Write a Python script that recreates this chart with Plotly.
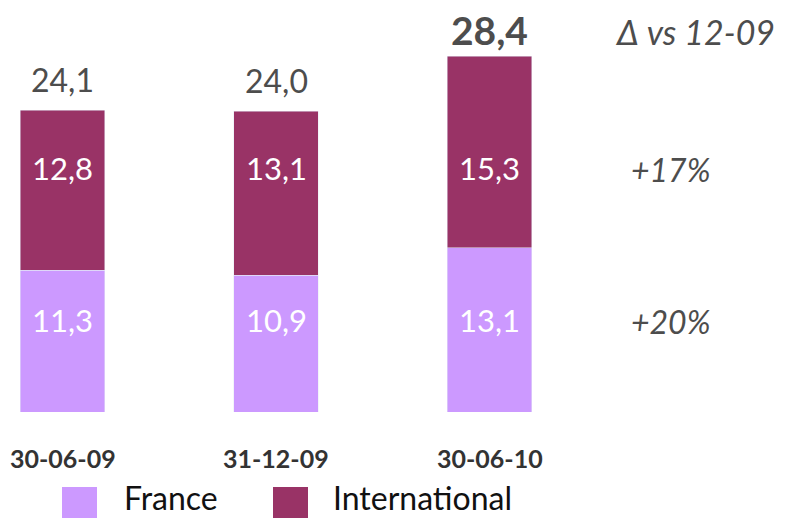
import plotly.graph_objects as go

# Encours (Md€) par date d'arrêté
dates = ["30-06-09", "31-12-09", "30-06-10"]
france = [11.3, 10.9, 13.1]
international = [12.8, 13.1, 15.3]
totals = [24.1, 24.0, 28.4]
delta_title = "Δ vs 12-09"
delta_international = "+17%"
delta_france = "+20%"

COL_FR = "#CC99FF"
COL_INT = "#993366"
GREY = "#4D4D4D"
FONT = "Lato"

W, H = 786, 518
PX_PER_UNIT = 12.53
PLOT_H = 412
x_pos = list(range(len(dates)))


def fmt(v):
    return f"{v:.1f}".replace(".", ",")


def py(pixel_y):
    """Paper y for a pixel row measured from the top of the page."""
    return (PLOT_H - pixel_y) / PLOT_H


def px(pixel_x):
    return pixel_x / W


fig = go.Figure()
fig.add_trace(go.Bar(x=x_pos, y=france, name="France", marker_color=COL_FR,
                     width=0.398, hoverinfo="skip"))
fig.add_trace(go.Bar(x=x_pos, y=international, name="International",
                     marker_color=COL_INT, width=0.398, hoverinfo="skip"))

ann = []
for i, x in enumerate(x_pos):
    last = i == len(x_pos) - 1
    ann.append(dict(x=x, y=totals[i], xanchor="center",
                    text=f"<b>{fmt(totals[i])}</b>" if last else fmt(totals[i]),
                    yanchor="bottom", yshift=1 if last else 9, showarrow=False,
                    font=dict(family=FONT, size=39 if last else 32, color=GREY)))
    ann.append(dict(x=x, xref="x", y=py(168), yref="paper", xanchor="center",
                    yanchor="middle", text=fmt(international[i]), showarrow=False,
                    font=dict(family=FONT, size=31, color="white")))
    ann.append(dict(x=x, xref="x", y=py(320), yref="paper", xanchor="center",
                    yanchor="middle", text=fmt(france[i]), showarrow=False,
                    font=dict(family=FONT, size=31, color="white")))
    ann.append(dict(x=x, xref="x", y=py(458), yref="paper", xanchor="center",
                    yanchor="middle", text=f"<b>{dates[i]}</b>", showarrow=False,
                    font=dict(family=FONT, size=25, color="#333333")))

ann.append(dict(x=px(695), xref="paper", y=py(32), yref="paper", xanchor="center",
                yanchor="middle", text=f"<i>{delta_title}</i>", showarrow=False,
                font=dict(family=FONT, size=34, color=GREY)))
ann.append(dict(x=px(671), xref="paper", y=py(169), yref="paper", xanchor="center",
                yanchor="middle", text=f"<i>{delta_international}</i>", showarrow=False,
                font=dict(family=FONT, size=32, color=GREY)))
ann.append(dict(x=px(671), xref="paper", y=py(321), yref="paper", xanchor="center",
                yanchor="middle", text=f"<i>{delta_france}</i>", showarrow=False,
                font=dict(family=FONT, size=32, color=GREY)))

# legend drawn as large swatches beneath the axis
shapes = []
legend_items = [("France", COL_FR, 62, 122), ("International", COL_INT, 273, 331)]
for label, col, sx, tx in legend_items:
    shapes.append(dict(type="rect", xref="paper", yref="paper",
                       x0=px(sx), x1=px(sx + 35), y0=py(520), y1=py(487),
                       fillcolor=col, line=dict(width=0)))
    ann.append(dict(xref="paper", yref="paper", x=px(tx), y=py(497),
                    xanchor="left", yanchor="middle", text=label, showarrow=False,
                    font=dict(family=FONT, size=32, color="#111111")))

fig.update_layout(
    barmode="stack",
    width=W, height=H,
    margin=dict(l=0, r=0, t=0, b=H - PLOT_H),
    paper_bgcolor="white", plot_bgcolor="white",
    showlegend=False,
    xaxis=dict(range=[-62.5 / 213.5, (W - 62.5) / 213.5], visible=False, fixedrange=True),
    yaxis=dict(range=[0, PLOT_H / PX_PER_UNIT], visible=False, fixedrange=True),
    annotations=ann,
    shapes=shapes,
)

fig.write_html("out.html")
